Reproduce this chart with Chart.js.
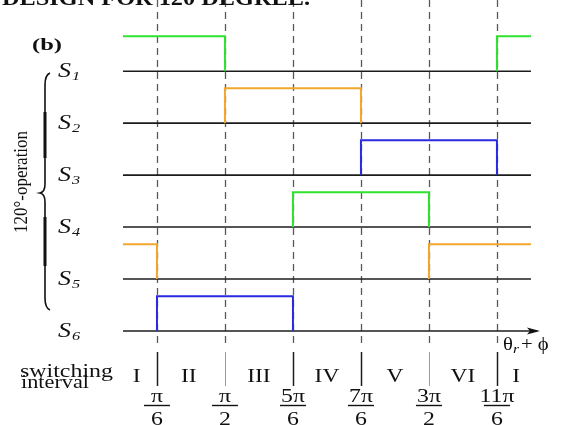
<!DOCTYPE html>
<html lang="en">
  <head>
    <meta charset="UTF-8" />
    <script src="https://cdn.jsdelivr.net/npm/chart.js"></script>
    <title>120 degree switching</title>
    <style>
      html, body { margin: 0; padding: 0; background: #fff; }
      #wrap { width: 562px; height: 425px; position: relative; }
    </style>
  </head>
  <body>
    <div id="wrap"><canvas id="myChart"></canvas></div>
  <script>
    // switch names (drawn as S + subscript)
    const switchSubs = ["1", "2", "3", "4", "5", "6"];
    // conduction intervals of each switch, electrical degrees
    const s1On = [[0, 90], [330, 360]];
    const s2On = [[90, 210]];
    const s3On = [[210, 330]];
    const s4On = [[150, 270]];
    const s5On = [[0, 30], [270, 360]];
    const s6On = [[30, 150]];
    // commutation angles and their tick labels
    const boundaryAngles = [30, 90, 150, 210, 270, 330];
    const boundaryNum = ["π", "π", "5π", "7π", "3π", "11π"];
    const boundaryDen = ["6", "2", "6", "6", "2", "6"];
    // switching interval names and where they sit
    const intervalNames = ["I", "II", "III", "IV", "V", "VI", "I"];
    const intervalAngles = [12, 58, 120, 180, 240, 300, 347];

    const allOn = [s1On, s2On, s3On, s4On, s5On, s6On];
    const colors = ["#2ee22e", "#f3a62c", "#2a2ae0", "#2ee22e", "#f3a62c", "#2a2ae0"];
    const HIGH = 0.67;
    const baseOf = (i) => 5 - i;

    function pulseData(intervals, base) {
      const pts = [];
      intervals.forEach(([a, b]) => {
        if (a > 0) pts.push({ x: a, y: base });
        pts.push({ x: a, y: base + HIGH });
        pts.push({ x: b, y: base + HIGH });
        if (b < 360) pts.push({ x: b, y: base });
        pts.push({ x: b, y: null });
      });
      return pts;
    }

    const datasets = [];
    allOn.forEach((iv, i) => {
      datasets.push({
        data: pulseData(iv, baseOf(i)),
        borderColor: colors[i],
        borderWidth: 2,
        spanGaps: false,
      });
    });
    switchSubs.forEach((s, i) => {
      datasets.push({
        data: [{ x: 0, y: baseOf(i) }, { x: 360, y: baseOf(i) }],
        borderColor: "#1c1c1c",
        borderWidth: 1.6,
      });
    });

    function txt(ctx, s, x, y, font, align, sx) {
      ctx.save();
      ctx.font = font;
      ctx.textAlign = align || "left";
      ctx.textBaseline = "alphabetic";
      ctx.translate(x, y);
      ctx.scale(sx || 1, 1);
      ctx.fillText(s, 0, 0);
      ctx.restore();
    }
    function fitTxt(ctx, s, x, y, font, w, align) {
      ctx.save();
      ctx.font = font;
      const sx = w / ctx.measureText(s).width;
      ctx.restore();
      txt(ctx, s, x, y, font, align, sx);
    }

    const SERIF = "'Liberation Serif', 'Times New Roman', serif";

    const overlay = {
      id: "overlay",
      beforeDatasetsDraw(chart) {
        const ctx = chart.ctx, xs = chart.scales.x;
        ctx.save();
        boundaryAngles.forEach((a, i) => {
          const px = Math.round(xs.getPixelForValue(a)) + 0.5;
          ctx.strokeStyle = "#5a5a5a";
          ctx.lineWidth = 1.3;
          ctx.setLineDash([7, 5]);
          ctx.beginPath();
          ctx.moveTo(px, 0);
          ctx.lineTo(px, 348);
          ctx.stroke();
          ctx.setLineDash([]);
          ctx.strokeStyle = a === 90 || a === 270 ? "#9a9a9a" : "#1c1c1c";
          ctx.lineWidth = a === 90 || a === 270 ? 1 : 1.5;
          ctx.beginPath();
          ctx.moveTo(px, 352);
          ctx.lineTo(px, 386);
          ctx.stroke();
        });
        ctx.restore();
      },
      afterDatasetsDraw(chart) {
        const ctx = chart.ctx, xs = chart.scales.x, ys = chart.scales.y;
        ctx.save();
        ctx.fillStyle = "#111";
        ctx.strokeStyle = "#111";

        // arrow on the last axis
        const ay = ys.getPixelForValue(0);
        const x0 = xs.getPixelForValue(360);
        ctx.lineWidth = 1.6;
        ctx.beginPath();
        ctx.moveTo(x0 - 1, ay);
        ctx.lineTo(x0 + 6, ay);
        ctx.stroke();
        ctx.beginPath();
        ctx.moveTo(x0 + 9, ay);
        ctx.lineTo(x0 - 4, ay - 3.5);
        ctx.lineTo(x0 - 1, ay);
        ctx.lineTo(x0 - 4, ay + 3.5);
        ctx.closePath();
        ctx.fill();

        // title (cut off at top)
        fitTxt(ctx, "DESIGN FOR 120 DEGREE.", 2, 5, "bold 20px " + SERIF, 308);
        fitTxt(ctx, "(b)", 32, 50, "bold 17px " + SERIF, 30);

        // switch labels
        switchSubs.forEach((s, i) => {
          const y = ys.getPixelForValue(baseOf(i)) + 6;
          txt(ctx, "S", 58, y, "italic 20px " + SERIF, "left", 1.3);
          txt(ctx, s, 72, y + 3, "italic 13px " + SERIF, "left", 1.25);
        });

        // brace
        ctx.lineWidth = 1.6;
        ctx.beginPath();
        ctx.moveTo(50, 73);
        ctx.quadraticCurveTo(45, 75, 45, 85);
        ctx.lineTo(45, 184);
        ctx.quadraticCurveTo(45, 192, 40, 193);
        ctx.quadraticCurveTo(45, 194, 45, 202);
        ctx.lineTo(45, 298);
        ctx.quadraticCurveTo(45, 308, 50, 310);
        ctx.stroke();
        ctx.lineWidth = 3;
        ctx.beginPath();
        ctx.moveTo(45, 112);
        ctx.lineTo(45, 158);
        ctx.moveTo(45, 217);
        ctx.lineTo(45, 266);
        ctx.stroke();

        // rotated group label
        ctx.save();
        ctx.translate(27, 182);
        ctx.rotate(-Math.PI / 2);
        ctx.scale(1, 1.15);
        ctx.font = "17px " + SERIF;
        ctx.textAlign = "center";
        ctx.fillText("120°-operation", 0, 0);
        ctx.restore();

        // axis label
        txt(ctx, "θ", 503, 350, "18px " + SERIF, "left", 1.15);
        txt(ctx, "r", 513, 353, "italic 13px " + SERIF, "left", 1.2);
        txt(ctx, "+ ϕ", 521, 350, "18px " + SERIF, "left", 1.15);

        // switching interval row
        fitTxt(ctx, "switching", 20, 377, "19px " + SERIF, 93);
        fitTxt(ctx, "interval", 21, 388, "19px " + SERIF, 68);
        intervalNames.forEach((n, i) => {
          txt(ctx, n, xs.getPixelForValue(intervalAngles[i]), 382, "18px " + SERIF, "center", 1.3);
        });

        // fraction tick labels
        boundaryAngles.forEach((a, i) => {
          const px = xs.getPixelForValue(a);
          txt(ctx, boundaryNum[i], px, 402, "19px " + SERIF, "center", 1.25);
          ctx.lineWidth = 1.4;
          ctx.beginPath();
          ctx.moveTo(px - 13, 405.5);
          ctx.lineTo(px + 13, 405.5);
          ctx.stroke();
          txt(ctx, boundaryDen[i], px, 425, "19px " + SERIF, "center", 1.25);
        });
        ctx.restore();
      },
    };

    new Chart(document.getElementById("myChart"), {
      type: "line",
      data: { datasets: datasets },
      options: {
        responsive: true,
        maintainAspectRatio: false,
        animation: false,
        layout: { padding: 0 },
        elements: { point: { radius: 0 }, line: { tension: 0 } },
        plugins: { legend: { display: false }, tooltip: { enabled: false } },
        scales: {
          x: { type: "linear", display: false, min: -108.5, max: 387.4 },
          y: { display: false, min: -1.81, max: 6.37 },
        },
      },
      plugins: [overlay],
    });
  </script>
  </body>
</html>
